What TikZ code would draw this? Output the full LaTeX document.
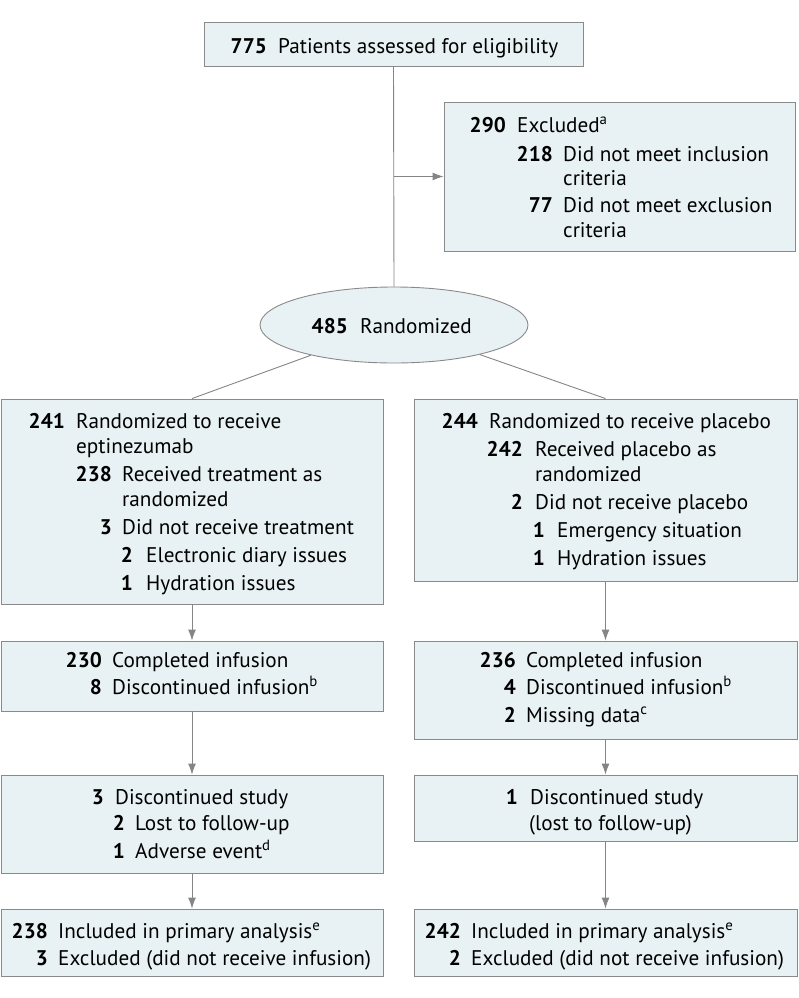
\documentclass[tikz,border=0pt]{standalone}
\usepackage{fontspec}
\setmainfont{PT Sans}
\usetikzlibrary{arrows.meta,shapes.geometric}
\definecolor{boxfill}{HTML}{E8F2F5}
\definecolor{boxline}{HTML}{8A8A8A}
\definecolor{linkc}{HTML}{858585}
\newcommand\fsz{\fontsize{21.2}{25}\selectfont}
\newcommand\nline[7]{%
  \node[numsty] (#1n) at (#2,#4) {#5};
  \node[txtsty] (#1t) at (#3,#4) {#6#7};}
\newcommand\wline[4]{\node[txtsty] (#1) at (#2,#3) {#4};}
\begin{document}
\begin{tikzpicture}[x=1pt,y=-1pt,
  box/.style={draw=boxline,fill=boxfill,line width=0.9pt,inner sep=0pt,rectangle},
  numsty/.style={font=\fsz\bfseries,inner sep=0pt,anchor=base east,text=black},
  txtsty/.style={font=\fsz,inner sep=0pt,anchor=base west,text=black},
  link/.style={draw=linkc,line width=0.9pt},
  arr/.style={link,-{Latex[length=11pt,width=8pt]}}]
\useasboundingbox (0,0) rectangle (798,998);
% boxes
\node[box,minimum width=379pt,minimum height=44pt] (top) at (393.5,44) {};
\node[box,minimum width=351pt,minimum height=149pt] (excl) at (619.5,176.5) {};
\node[box,ellipse,minimum width=268pt,minimum height=76pt] (rand) at (394,325) {};
\node[box,minimum width=382pt,minimum height=205pt] (L1) at (192,501.5) {};
\node[box,minimum width=383pt,minimum height=182pt] (R1) at (605.5,490) {};
\node[box,minimum width=382pt,minimum height=70pt] (L2) at (192,676) {};
\node[box,minimum width=383pt,minimum height=98pt] (R2) at (605.5,690) {};
\node[box,minimum width=382pt,minimum height=98pt] (L3) at (192,824) {};
\node[box,minimum width=383pt,minimum height=66pt] (R3) at (605.5,808) {};
\node[box,minimum width=382pt,minimum height=67pt] (L4) at (192,942.5) {};
\node[box,minimum width=383pt,minimum height=67pt] (R4) at (605.5,942.5) {};
% connectors
\draw[link] (top.south) -- (rand.north);
\coordinate (branch) at (top.south |- excl.west);
\draw[arr] (branch) -- (excl.west);
\draw[link] (rand.200) -- (L1.north);
\draw[link] (rand.341) -- (R1.north);
\draw[arr] (L1.south) -- (L2.north);
\draw[arr] (L2.south) -- (L3.north);
\draw[arr] (L3.south) -- (L4.north);
\draw[arr] (R1.south) -- (R2.north);
\draw[arr] (R2.south) -- (R3.north);
\draw[arr] (R3.south) -- (R4.north);
% texts
\nline{a}{267}{278}{53}{775}{Patients assessed for eligibility}{}
\nline{b1}{506}{517}{132}{290}{Excluded}{\textsuperscript{a}}
\nline{b2}{553}{563}{161}{218}{Did not meet inclusion}{}
\wline{b3}{563}{185}{criteria}
\nline{b4}{553}{563}{212}{77}{Did not meet exclusion}{}
\wline{b5}{563}{237}{criteria}
\nline{c}{348}{360}{333}{485}{Randomized}{}
\nline{d1}{65}{76}{428}{241}{Randomized to receive}{}
\wline{d2}{76}{453}{eptinezumab}
\nline{d3}{112}{122}{481}{238}{Received treatment as}{}
\wline{d4}{122}{506}{randomized}
\nline{d5}{112}{122}{534}{3}{Did not receive treatment}{}
\nline{d6}{133}{146}{562}{2}{Electronic diary issues}{}
\nline{d7}{133}{146}{590}{1}{Hydration issues}{}
\nline{e1}{478}{489}{428}{244}{Randomized to receive placebo}{}
\nline{e2}{523}{535}{456}{242}{Received placebo as}{}
\wline{e3}{535}{481}{randomized}
\nline{e4}{523}{535}{509}{2}{Did not receive placebo}{}
\nline{e5}{545}{557}{537}{1}{Emergency situation}{}
\nline{e6}{545}{557}{565}{1}{Hydration issues}{}
\nline{f1}{102}{112}{667}{230}{Completed infusion}{}
\nline{f2}{102}{112}{694}{8}{Discontinued infusion}{\textsuperscript{b}}
\nline{g1}{516}{526}{667}{236}{Completed infusion}{}
\nline{g2}{516}{526}{694}{4}{Discontinued infusion}{\textsuperscript{b}}
\nline{g3}{516}{526}{722}{2}{Missing data}{\textsuperscript{c}}
\nline{h1}{104}{115}{804}{3}{Discontinued study}{}
\nline{h2}{125}{135}{830}{2}{Lost to follow-up}{}
\nline{h3}{125}{135}{858}{1}{Adverse event}{\textsuperscript{d}}
\nline{i1}{518}{530}{804}{1}{Discontinued study}{}
\wline{i2}{529}{830}{(lost to follow-up)}
\nline{j1}{48}{58}{938}{238}{Included in primary analysis}{\textsuperscript{e}}
\nline{j2}{48}{58}{965}{3}{Excluded (did not receive infusion)}{}
\nline{k1}{461}{471}{938}{242}{Included in primary analysis}{\textsuperscript{e}}
\nline{k2}{461}{471}{965}{2}{Excluded (did not receive infusion)}{}
\end{tikzpicture}
\end{document}
